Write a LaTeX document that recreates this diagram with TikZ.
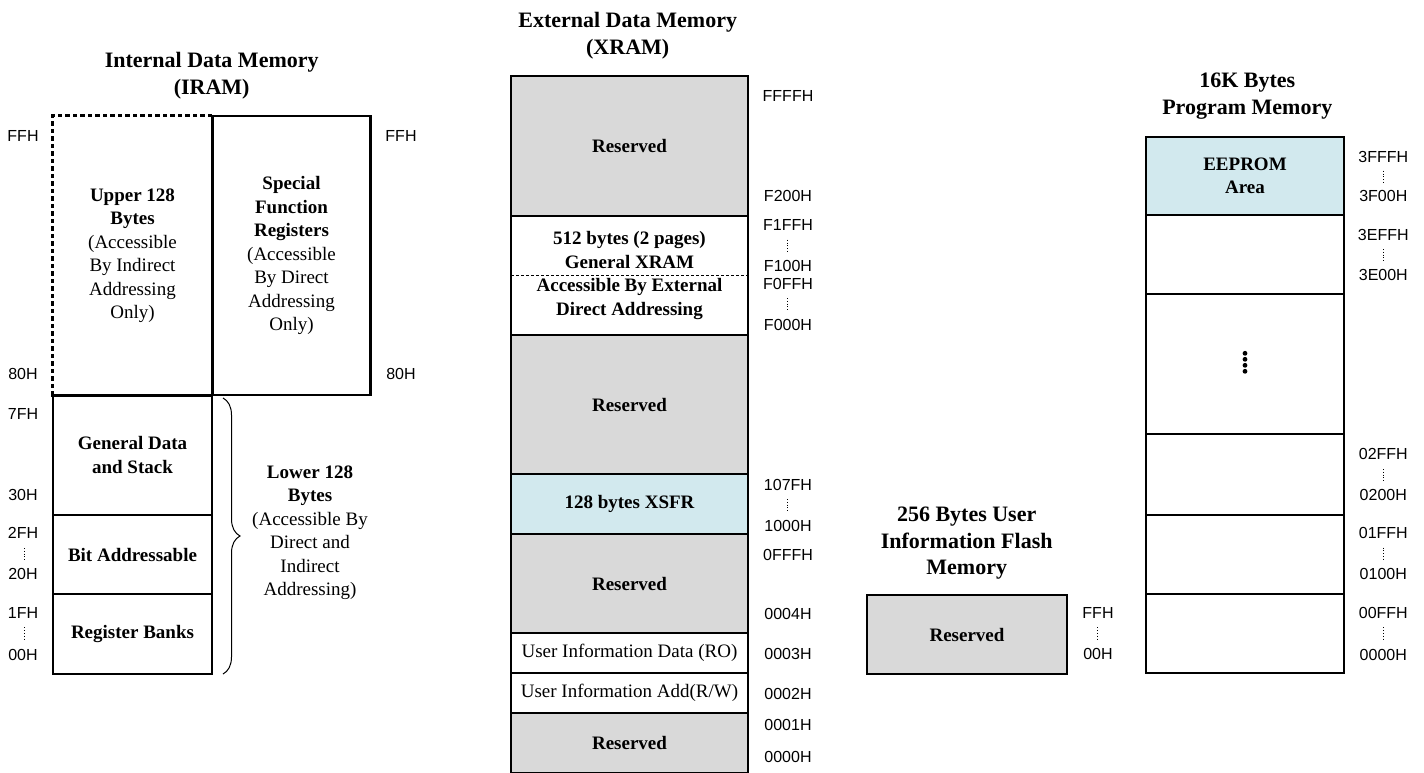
\documentclass[tikz,border=0pt]{standalone}
\usepackage{fontspec}
\setmainfont{Liberation Serif}
\newfontfamily\arial{Liberation Sans}
\usetikzlibrary{decorations.pathreplacing}
\definecolor{resv}{HTML}{D9D9D9}
\definecolor{lblue}{HTML}{D2E9EE}
\tikzset{
  cell/.style={draw=black, line width=2.8pt, inner sep=0pt, outer sep=0pt, align=center,
    font=\fontsize{19}{23.5}\selectfont},
  bcell/.style={cell, font=\fontsize{19}{23.5}\selectfont\bfseries},
  plaintext/.style={inner sep=0pt, align=center, font=\fontsize{19}{23.5}\selectfont},
  ttl/.style={inner sep=0pt, align=center, font=\fontsize{22}{26.7}\selectfont\bfseries},
  addr/.style={inner sep=0pt, font=\arial\fontsize{16}{19}\selectfont},
  vdts/.style={line width=0.9pt, dash pattern=on 0.9pt off 1.9pt},
  dashbox/.style={line width=2.8pt, dash pattern=on 4.5pt off 3pt},
}
\begin{document}
\begin{tikzpicture}[x=1pt,y=-1pt]
\useasboundingbox (0,0) rectangle (1424,773);

% ---------- Internal Data Memory ----------
\node[ttl] (t1) at (211.7,76) {Internal Data Memory\\(IRAM)};
\node[plaintext, minimum width=159pt, minimum height=279pt] (upper) at (132.5,255.5)
  {\textbf{Upper 128}\\\textbf{Bytes}\\(Accessible\\By Indirect\\Addressing\\Only)};
\draw[dashbox] (upper.north east) -- (upper.north west) -- (upper.south west) -- (upper.south east);
\node[cell, minimum width=158pt, minimum height=279pt] (sfr) at (291.5,255.5)
  {\textbf{Special}\\\textbf{Function}\\\textbf{Registers}\\(Accessible\\By Direct\\Addressing\\Only)};
\node[bcell, minimum width=159pt, minimum height=120pt] (gds) at (132.5,455) {General Data\\and Stack};
\node[bcell, minimum width=159pt, minimum height=79pt] (bit) at (132.5,554.5) {Bit Addressable};
\node[bcell, minimum width=159pt, minimum height=80pt] (reg) at (132.5,634) {Register Banks};
\draw[dashbox] (upper.south west) -- (upper.south east);

\coordinate (bt) at (223,398);
\coordinate (bb) at (223,674);
\draw[line width=1pt, decorate, decoration={brace, amplitude=17pt}] (bt) -- (bb);
\node[plaintext] (lower) at (310,532.5)
  {\textbf{Lower 128}\\\textbf{Bytes}\\(Accessible By\\Direct and\\Indirect\\Addressing)};

\foreach \t/\y [count=\i] in {FFH/135.7, 80H/374.3, 7FH/414, 30H/495, 2FH/533.3, 20H/574, 1FH/612.7, 00H/655}
  \node[addr] (la\i) at (23,\y) {\t};
\foreach \t/\y [count=\i] in {FFH/135.7, 80H/374.3}
  \node[addr] (ra\i) at (401,\y) {\t};
\foreach \y in {554,633.3}
  \draw[vdts] (24.5,\y-6) -- (24.5,\y+6);

% ---------- External Data Memory ----------
\node[ttl] (t2) at (627.7,36) {External Data Memory\\(XRAM)};
\node[bcell, fill=resv, minimum width=237pt, minimum height=140pt] (x1) at (629.5,146) {Reserved};
\node[bcell, fill=white, minimum width=237pt, minimum height=119pt] (x2) at (629.5,275.5)
  {512 bytes (2 pages)\\General XRAM\\Accessible By External\\Direct Addressing};
\draw[line width=0.9pt, dash pattern=on 3pt off 2pt] (x2.west) -- (x2.east);
\node[bcell, fill=resv, minimum width=237pt, minimum height=139pt] (x3) at (629.5,404.5) {Reserved};
\node[bcell, fill=lblue, minimum width=237pt, minimum height=60pt] (x4) at (629.5,504) {128 bytes XSFR};
\node[bcell, fill=resv, minimum width=237pt, minimum height=99pt] (x5) at (629.5,583.5) {Reserved};
\node[cell, fill=white, minimum width=237pt, minimum height=40pt] (x6) at (629.5,653) {User Information Data (RO)};
\node[cell, fill=white, minimum width=237pt, minimum height=40pt] (x7) at (629.5,693) {User Information Add(R/W)};
\node[bcell, fill=resv, minimum width=237pt, minimum height=60pt] (x8) at (629.5,743) {Reserved};

\foreach \t/\y [count=\i] in {FFFFH/96, F200H/196, F1FFH/225, F100H/265.7, F0FFH/284.3, F000H/325,
  107FH/485, 1000H/525.7, 0FFFH/555, 0004H/614.3, 0003H/654, 0002H/694, 0001H/725, 0000H/756.7}
  \node[addr] (xa\i) at (788,\y) {\t};
\foreach \y in {245.7,304,505}
  \draw[vdts] (787,\y-6) -- (787,\y+6);

% ---------- User Information Flash ----------
\node[ttl] (t3) at (966.7,543.3) {256 Bytes User\\Information Flash\\Memory};
\node[bcell, fill=resv, minimum width=200pt, minimum height=79pt] (f1) at (967,634.5) {Reserved};
\node[addr] (fa1) at (1098,613.3) {FFH};
\node[addr] (fa2) at (1098,654) {00H};
\draw[vdts] (1097,633.3-6) -- (1097,633.3+6);

% ---------- Program Memory ----------
\node[ttl] (t4) at (1247.3,96) {16K Bytes\\Program Memory};
\node[bcell, fill=lblue, minimum width=198pt, minimum height=78pt] (p1) at (1245,176) {EEPROM\\Area};
\node[cell, minimum width=198pt, minimum height=79pt] (p2) at (1245,254.5) {};
\node[cell, minimum width=198pt, minimum height=140pt] (p3) at (1245,364) {};
\node[cell, minimum width=198pt, minimum height=81pt] (p4) at (1245,474.5) {};
\node[cell, minimum width=198pt, minimum height=79pt] (p5) at (1245,554.5) {};
\node[cell, minimum width=198pt, minimum height=79pt] (p6) at (1245,633.5) {};
\foreach \y in {353.3,359.3,365.3,371.3}
  \fill (1245,\y) circle (2.4pt);

\foreach \t/\y [count=\i] in {3FFFH/156.7, 3F00H/196, 3EFFH/235, 3E00H/275, 02FFH/454, 0200H/495,
  01FFH/533.3, 0100H/574, 00FFH/613.3, 0000H/655}
  \node[addr] (pa\i) at (1383.3,\y) {\t};
\foreach \y in {176.7,255,475,553.5,633.3}
  \draw[vdts] (1383,\y-6) -- (1383,\y+6);
\end{tikzpicture}
\end{document}
